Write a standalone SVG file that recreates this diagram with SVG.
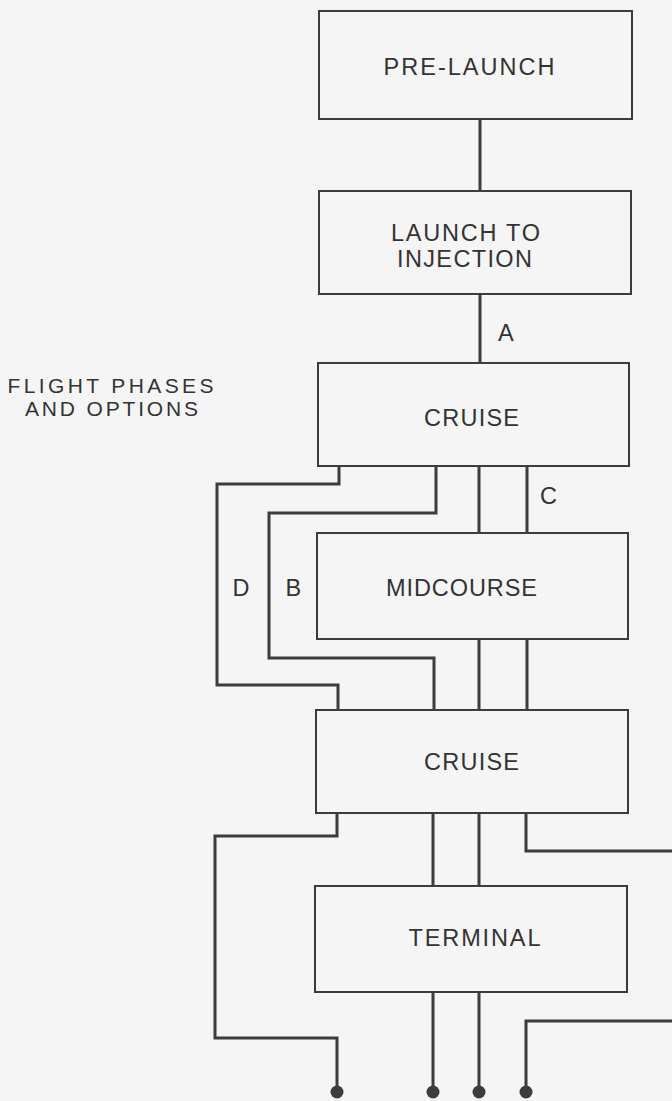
<svg xmlns="http://www.w3.org/2000/svg" width="672" height="1101" viewBox="0 0 672 1101">
  <style>
    .box { fill: none; stroke: #3c3c3c; stroke-width: 2; }
    .wire { fill: none; stroke: #3c3c3c; stroke-width: 3; stroke-linejoin: miter; }
    .lbl { font-family: "Liberation Sans", Arial, sans-serif; font-size: 23.5px; fill: #333333; }
    .side { font-size: 21px; }
    .dot { fill: #3c3c3c; }
  </style>
  <rect width="672" height="1101" fill="#f5f5f5"/>

  <!-- side title, two lines in one text block -->
  <g id="title">
    <text class="lbl side"><tspan x="7.5" y="392.5" textLength="206">FLIGHT PHASES</tspan><tspan x="25" y="416" textLength="173">AND OPTIONS</tspan></text>
  </g>

  <!-- connectors -->
  <g id="connectors">
    <!-- main trunk -->
    <path class="wire" d="M480,119 V191"/>
    <path class="wire" d="M480,294 V363"/>
    <!-- cruise -> midcourse (straight) and option C -->
    <path class="wire" d="M479,466 V533"/>
    <path class="wire" d="M527,466 V533"/>
    <path class="wire" d="M479,639 V710"/>
    <path class="wire" d="M527,639 V710"/>
    <!-- option D bypass -->
    <path class="wire" d="M339,466 V484 H217 V685 H338 V710"/>
    <!-- option B bypass -->
    <path class="wire" d="M436,466 V513 H269 V658 H434 V710"/>
    <!-- cruise -> terminal -->
    <path class="wire" d="M433,813 V886"/>
    <path class="wire" d="M479,813 V886"/>
    <!-- outer routes from second cruise -->
    <path class="wire" d="M337,813 V836 H215 V1038 H337 V1092"/>
    <path class="wire" d="M526,813 V851 H672"/>
    <path class="wire" d="M672,1021 H526 V1092"/>
    <!-- terminal outputs -->
    <path class="wire" d="M433,992 V1092"/>
    <path class="wire" d="M479,992 V1092"/>
    <!-- end points -->
    <circle class="dot" cx="337" cy="1092" r="6.5"/>
    <circle class="dot" cx="433" cy="1092" r="6.5"/>
    <circle class="dot" cx="479" cy="1092" r="6.5"/>
    <circle class="dot" cx="526" cy="1092" r="6.5"/>
    <!-- path labels -->
    <text class="lbl" x="498" y="341">A</text>
    <text class="lbl" x="540" y="504">C</text>
    <text class="lbl" x="232.5" y="596">D</text>
    <text class="lbl" x="285.5" y="596">B</text>
  </g>

  <g id="prelaunch">
    <rect class="box" x="319" y="11" width="313" height="108"/>
    <text class="lbl" x="383.5" y="75" textLength="171">PRE-LAUNCH</text>
  </g>

  <g id="launch">
    <rect class="box" x="319" y="191" width="312" height="103"/>
    <text class="lbl" x="391" y="241" textLength="149">LAUNCH TO</text>
    <text class="lbl" x="397" y="267" textLength="135">INJECTION</text>
  </g>

  <g id="cruise1">
    <rect class="box" x="318" y="363" width="311" height="103"/>
    <text class="lbl" x="424" y="426" textLength="95">CRUISE</text>
  </g>

  <g id="midcourse">
    <rect class="box" x="317" y="533" width="311" height="106"/>
    <text class="lbl" x="386" y="596" textLength="151">MIDCOURSE</text>
  </g>

  <g id="cruise2">
    <rect class="box" x="316" y="710" width="312" height="103"/>
    <text class="lbl" x="424" y="770" textLength="95">CRUISE</text>
  </g>

  <g id="terminal">
    <rect class="box" x="315" y="886" width="312" height="106"/>
    <text class="lbl" x="408.5" y="946" textLength="132">TERMINAL</text>
  </g>
</svg>
